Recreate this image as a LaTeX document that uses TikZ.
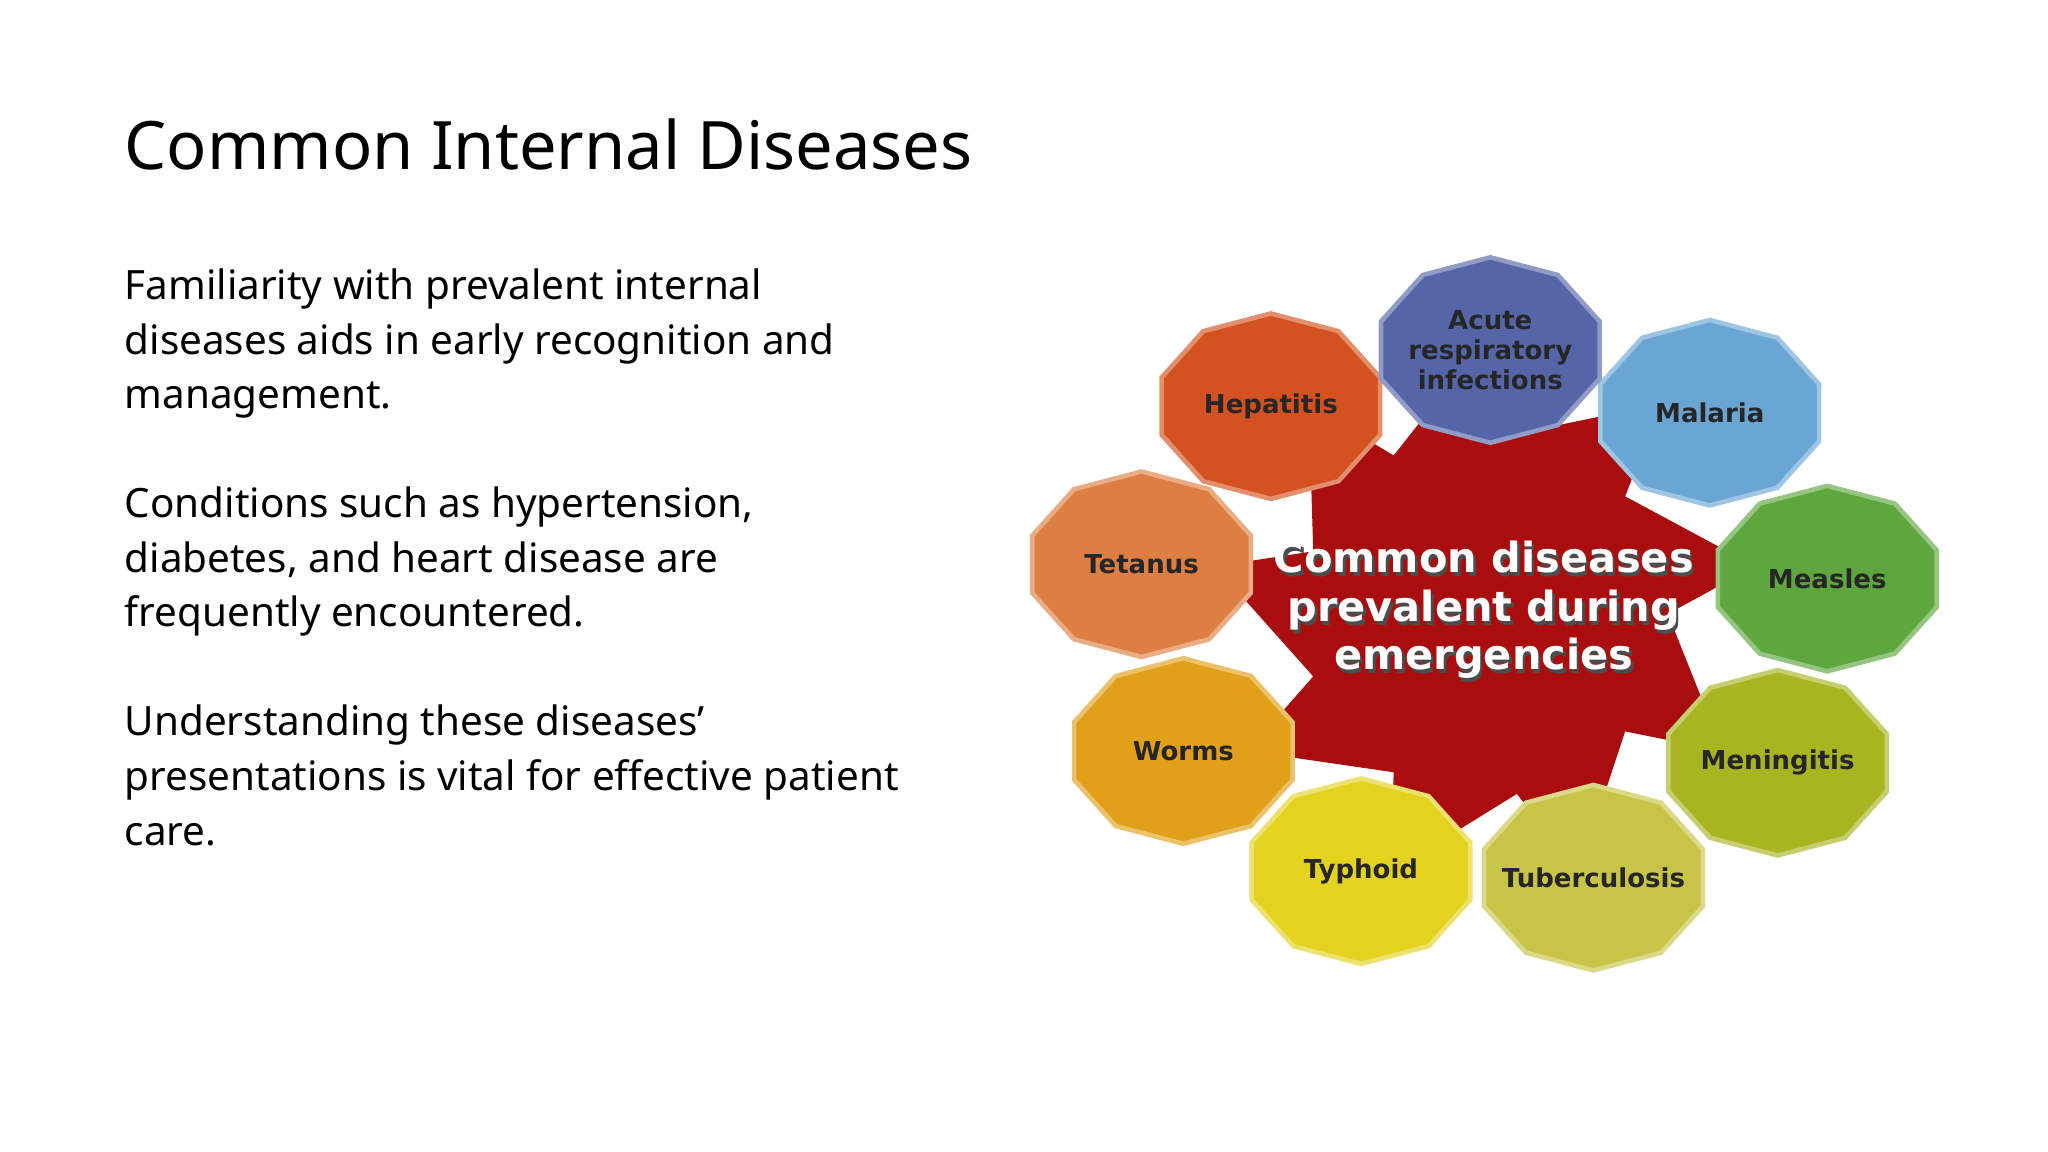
\documentclass[tikz,border=0pt]{standalone}
\usepackage{fontspec}
\setmainfont{Noto Sans}
\newfontfamily\dv{DejaVu Sans}
\begin{document}
\begin{tikzpicture}[x=0.013061cm,y=-0.013061cm,
 lbl/.style={font=\dv\bfseries\fontsize{7.4}{8.6}\selectfont,align=center,text=black!85},
 body/.style={anchor=north west,align=left,inner sep=0pt,font=\fontsize{11.5}{15.6}\selectfont}]
\useasboundingbox (0,0) rectangle (1568,882);
\newcommand\deca[5]{%
 \filldraw[fill=#3,draw=#3!65!white,line width=1.3pt,shift={(#1,#2)}]
  (18:88 and 71) \foreach \a in {54,90,...,342}{ -- (\a:88 and 71)} -- cycle;
 \node[lbl] (#5) at (#1,#2) {#4};}
% star
\fill[red!65!black!95!white,shift={(1137,470)}] (110:210)
 \foreach \k in {0,...,8}{ -- ({120+40*\k}:140) -- ({150+40*\k}:210)} -- cycle;
\definecolor{cA}{HTML}{5466A8}\definecolor{cH}{HTML}{D4521F}
\definecolor{cM}{HTML}{6AA6D4}\definecolor{cT}{HTML}{DD7F42}
\definecolor{cMe}{HTML}{5EA63E}\definecolor{cW}{HTML}{E0A01A}
\definecolor{cMn}{HTML}{A8B521}\definecolor{cTy}{HTML}{E3D21E}
\definecolor{cTb}{HTML}{C8C447}
\deca{973}{311}{cH}{Hepatitis}{hep}
\deca{874}{432}{cT}{Tetanus}{tet}
\deca{906}{575}{cW}{Worms}{wor}
\deca{1042}{667}{cTy}{Typhoid}{typ}
\deca{1220}{672}{cTb}{Tuberculosis}{tub}
\deca{1361}{584}{cMn}{Meningitis}{men}
\deca{1399}{443}{cMe}{Measles}{mea}
\deca{1309}{316}{cM}{Malaria}{mal}
\deca{1141}{268}{cA}{Acute\\respiratory\\infections}{acu}
\node[font=\dv\bfseries\fontsize{11.8}{13.8}\selectfont,align=center,text=black!70] at (1138,470) {Common diseases\\prevalent during\\emergencies};
\node[font=\dv\bfseries\fontsize{11.8}{13.8}\selectfont,align=center,text=white] (ctr) at (1136,467) {Common diseases\\prevalent during\\emergencies};
% text
\node[anchor=base west,inner sep=0pt,font=\bfseries\fontsize{19}{23}\selectfont] (title) at (95,130) {Common Internal Diseases};
\node[body] (p1) at (95,205) {Familiarity with prevalent internal\\diseases aids in early recognition and\\management.};
\node[body] (p2) at (95,372) {Conditions such as hypertension,\\diabetes, and heart disease are\\frequently encountered.};
\node[body] (p3) at (95,539) {Understanding these diseases'\\presentations is vital for effective patient\\care.};
\end{tikzpicture}
\end{document}
